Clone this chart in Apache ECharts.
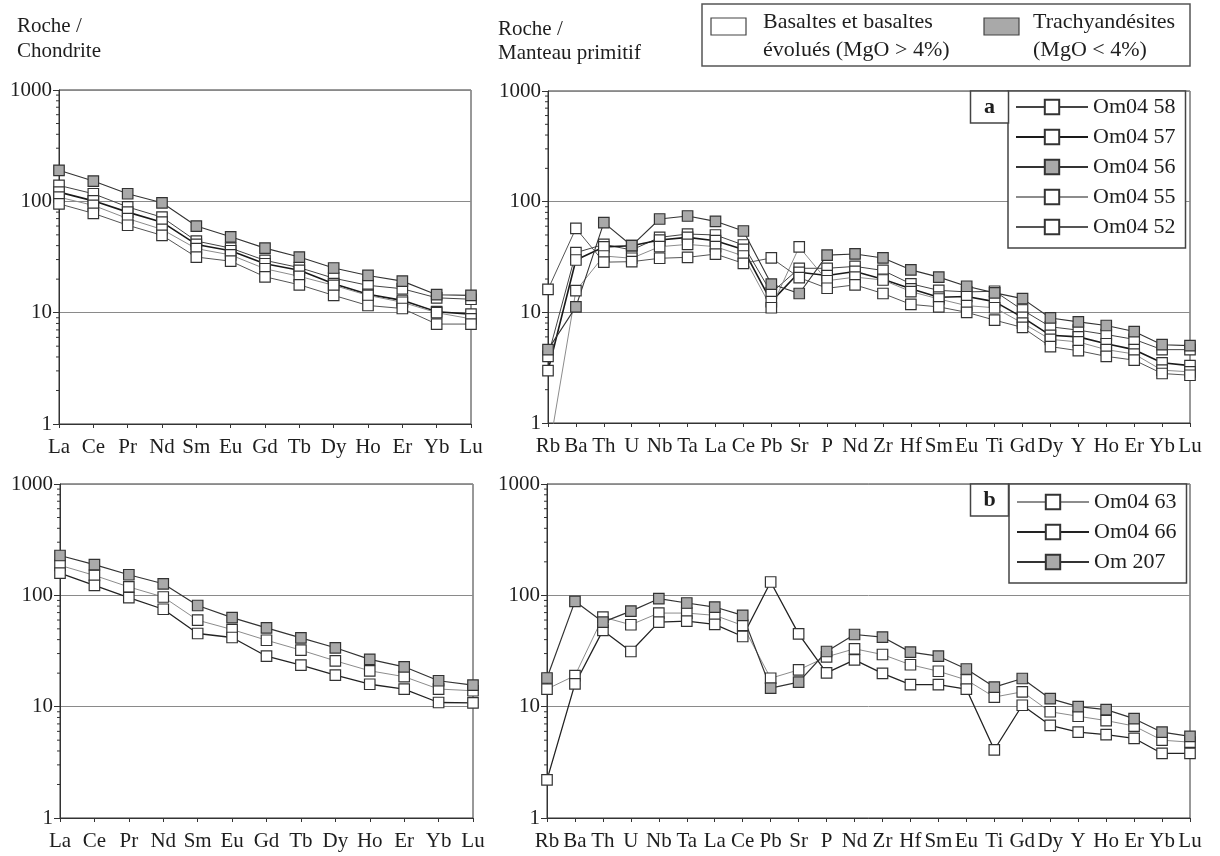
<!DOCTYPE html>
<html><head><meta charset="utf-8">
<script src="https://cdn.jsdelivr.net/npm/echarts@6/dist/echarts.min.js"></script>
<style>html,body{margin:0;padding:0;background:#fff}#c{width:1220px;height:856px}</style>
</head><body><div id="c"></div>
<script>
// ---------- DATA ----------
const reeCats = ['La','Ce','Pr','Nd','Sm','Eu','Gd','Tb','Dy','Ho','Er','Yb','Lu'];
const spiderCats = ['Rb','Ba','Th','U','Nb','Ta','La','Ce','Pb','Sr','P','Nd','Zr','Hf','Sm','Eu','Ti','Gd','Dy','Y','Ho','Er','Yb','Lu'];
const yTickLabels = [1, 10, 100, 1000];

const namesA = ['Om04 58','Om04 57','Om04 56','Om04 55','Om04 52'];
const namesB = ['Om04 63','Om04 66','Om 207'];

// (a) Roche / Chondrite
const om0458_ree = [139,117,89,72,44,38,29.5,25.4,20.4,17.6,16.4,13.6,13.2];
const om0457_ree = [121,101,80,65,41,36,27.5,24,18.2,14.6,12.9,10.2,9.7];
const om0456_ree = [190,152,117,97,60,48,38,31.6,25.2,21.6,19.2,14.5,14.3];
const om0455_ree = [109,92,70,56,37.6,33,24.8,21.2,17.6,14.3,12.4,10,8.8];
const om0452_ree = [95,78,61,49.5,31.6,29,21,17.8,14.3,11.6,10.9,7.9,7.9];
// (a) Roche / Manteau primitif
const om0458_sp = [4.0,34.6,41.1,36.6,47.6,51,50,40.6,15,25,25,26,23.9,18.1,15.8,15.3,15.5,10.5,7.4,6.9,6.3,5.7,4.6,4.6];
const om0457_sp = [2.97,29.7,39,40,45,47.6,44.4,37,12.5,23,21.5,23.4,19.9,16.3,13.7,13.9,12.5,9,6.2,6.0,5.2,4.6,3.5,3.3];
const om0456_sp = [4.6,11.2,64.6,40,69.7,74.2,66.4,54.3,18,14.8,32.9,33.7,31,24.2,20.8,17.2,15,13.3,8.9,8.2,7.6,6.7,5.1,5.0];
const om0455_sp = [0.5,15.7,32.3,30.8,39.2,41.1,39.2,32.3,11,39,19.3,20.8,19.6,15.4,13.2,11.5,11,8,5.7,5.4,4.6,4.2,3.0,2.9];
const om0452_sp = [16.1,57.4,28.4,28.7,30.8,31.4,33.6,27.7,31,20.6,16.5,17.7,14.8,11.8,11.2,10,8.5,7.3,4.9,4.5,4.0,3.7,2.8,2.7];

// (b) Roche / Chondrite
const om0463_ree = [186,151,119,96.6,59.8,49.3,39.5,32.2,25.8,21,18.6,14.4,13.9];
const om0466_ree = [158,123,95.3,75,45.4,41.8,28.4,23.6,19.2,15.9,14.4,10.9,10.8];
const om207_ree  = [228,189,153,127,81,63,51,41.5,33.8,26.6,22.8,17.1,15.6];
// (b) Roche / Manteau primitif
const om0463_sp = [14.4,19,63.8,54.4,69.3,69.3,66.1,53.7,18,21.4,28,33.1,29.4,23.8,20.8,17.4,12.2,13.6,9.0,8.2,7.5,6.7,5.0,4.8];
const om0466_sp = [2.2,16,48.4,31.3,57.5,58.7,54.8,42.7,131.8,45.1,20.1,26.3,19.9,15.8,15.8,14.4,4.1,10.3,6.8,5.9,5.6,5.2,3.8,3.8];
const om207_sp  = [18.1,88.3,57.5,72.2,93.3,85.3,78.5,66.1,14.7,16.6,31.3,44.5,42.2,30.9,28.4,21.8,15.0,17.9,11.8,10,9.4,7.8,5.9,5.4];

// ---------- STYLE ----------
const FONT = 'Liberation Serif';
const TXT = '#1e1e1e';
const FRAME = '#333';
const WHITE = '#ffffff', GREY = '#a9a9a9';
const styles = {
  'Om04 58': {line:'#444', w:1, fill:WHITE},
  'Om04 57': {line:'#1a1a1a', w:1.6, fill:WHITE},
  'Om04 56': {line:'#333', w:1.1, fill:GREY},
  'Om04 55': {line:'#8c8c8c', w:1, fill:WHITE},
  'Om04 52': {line:'#555', w:1, fill:WHITE},
  'Om04 63': {line:'#8c8c8c', w:1, fill:WHITE},
  'Om04 66': {line:'#222', w:1.3, fill:WHITE},
  'Om 207':  {line:'#333', w:1.2, fill:GREY}
};
const grids = [
  {left:59, top:90, width:412, height:334},
  {left:548, top:91, width:642, height:332},
  {left:60, top:484, width:413, height:334},
  {left:547, top:484, width:643, height:334}
];

function mkSeries(name, data, idx){
  const s = styles[name];
  return {
    name, type:'line', data, xAxisIndex:idx, yAxisIndex:idx,
    symbol:'rect', symbolSize:10.5, clip:true,
    lineStyle:{color:s.line, width:s.w},
    itemStyle:{color:s.fill, borderColor:'#333', borderWidth:1.2},
    emphasis:{disabled:true}
  };
}

const series = [
  mkSeries('Om04 58', om0458_ree, 0), mkSeries('Om04 57', om0457_ree, 0),
  mkSeries('Om04 55', om0455_ree, 0), mkSeries('Om04 52', om0452_ree, 0),
  mkSeries('Om04 56', om0456_ree, 0),
  mkSeries('Om04 58', om0458_sp, 1), mkSeries('Om04 57', om0457_sp, 1),
  mkSeries('Om04 55', om0455_sp, 1), mkSeries('Om04 52', om0452_sp, 1),
  mkSeries('Om04 56', om0456_sp, 1),
  mkSeries('Om04 63', om0463_ree, 2), mkSeries('Om04 66', om0466_ree, 2),
  mkSeries('Om 207', om207_ree, 2),
  mkSeries('Om04 63', om0463_sp, 3), mkSeries('Om04 66', om0466_sp, 3),
  mkSeries('Om 207', om207_sp, 3)
];

const xAxes = [reeCats, spiderCats, reeCats, spiderCats].map((cats, i) => ({
  type:'category', gridIndex:i, data:cats, boundaryGap:false,
  axisLine:{show:true, lineStyle:{color:FRAME, width:1}},
  axisTick:{show:true, inside:false, length:4, interval:0, lineStyle:{color:FRAME}},
  axisLabel:{interval:0, margin:13, fontFamily:FONT, fontSize:21, color:TXT},
  splitLine:{show:false}
}));
const yAxes = grids.map((g, i) => ({
  type:'log', logBase:10, gridIndex:i, min:yTickLabels[0], max:yTickLabels[yTickLabels.length-1],
  axisLine:{show:true, lineStyle:{color:FRAME, width:1}},
  axisTick:{show:true, length:6, lineStyle:{color:FRAME}},
  axisLabel:{margin:7, fontFamily:FONT, fontSize:21, color:TXT,
    formatter: v => String(Math.round(v))},
  splitLine:{show:true, lineStyle:{color:'#8a8a8a', width:1}}
}));

const legendCommon = {
  orient:'vertical', itemWidth:72, itemHeight:18, itemGap:6, selectedMode:false,
  borderColor:'#444', borderWidth:1.5, backgroundColor:'#fff',
  textStyle:{fontFamily:FONT, fontSize:22, color:TXT, lineHeight:24}
};

const option = {
  animation:false,
  backgroundColor:'#fff',
  title:[
    {text:'Roche /\nChondrite', left:17, top:14, padding:0,
     textStyle:{fontFamily:FONT, fontSize:21, fontWeight:'normal', color:TXT, lineHeight:25}},
    {text:'Roche /\nManteau primitif', left:498, top:17, padding:0,
     textStyle:{fontFamily:FONT, fontSize:21, fontWeight:'normal', color:TXT, lineHeight:24}}
  ],
  grid: grids.map(g => Object.assign({show:true, borderColor:FRAME, borderWidth:1, backgroundColor:'transparent', containLabel:false}, g)),
  xAxis:xAxes, yAxis:yAxes,
  legend:[
    Object.assign({}, legendCommon, {data:namesA, left:1008, top:91, padding:[4,10,9,7]}),
    Object.assign({}, legendCommon, {data:namesB, left:1009, top:484, padding:[6,10,9,7]})
  ],
  series
};

const chart = echarts.init(document.getElementById('c'), null, {renderer:'canvas'});
chart.setOption(option);

// ---------- decorations: log minor ticks, header legend, panel letters ----------
const graphics = [];
grids.forEach((g, i) => {
  const cats = (i % 2 === 0) ? reeCats : spiderCats;
  const x0 = chart.convertToPixel({xAxisIndex:i}, cats[0]);
  for (let d = 1; d < 1000; d *= 10) {
    for (let k = 2; k <= 9; k++) {
      const y = chart.convertToPixel({yAxisIndex:i}, d * k);
      graphics.push({type:'line', shape:{x1:x0-3, y1:y, x2:x0, y2:y}, style:{stroke:FRAME, lineWidth:1}, silent:true});
    }
  }
});
// header legend box
graphics.push({type:'rect', shape:{x:702, y:4, width:488, height:62}, style:{fill:'#fff', stroke:'#555', lineWidth:1.5}, z:10});
graphics.push({type:'rect', shape:{x:711, y:18, width:35, height:17}, style:{fill:WHITE, stroke:'#444', lineWidth:1.2}, z:11});
graphics.push({type:'text', x:763, y:8, style:{text:'Basaltes et basaltes\névolués (MgO > 4%)', font:'22px "Liberation Serif"', fill:TXT, lineHeight:28}, z:11});
graphics.push({type:'rect', shape:{x:984, y:18, width:35, height:17}, style:{fill:GREY, stroke:'#444', lineWidth:1.2}, z:11});
graphics.push({type:'text', x:1033, y:8, style:{text:'Trachyandésites\n(MgO < 4%)', font:'22px "Liberation Serif"', fill:TXT, lineHeight:28}, z:11});
// panel letters
[['a', 91], ['b', 484]].forEach(([t, y]) => {
  graphics.push({type:'rect', shape:{x:970.5, y:y, width:38, height:32}, style:{fill:'#fff', stroke:'#444', lineWidth:1.5}, z:10});
  graphics.push({type:'text', x:989.5, y:y+16, style:{text:t, font:'bold 22px "Liberation Serif"', fill:TXT, align:'center', verticalAlign:'middle'}, z:11});
});
chart.setOption({graphic:graphics});
</script>
</body></html>
